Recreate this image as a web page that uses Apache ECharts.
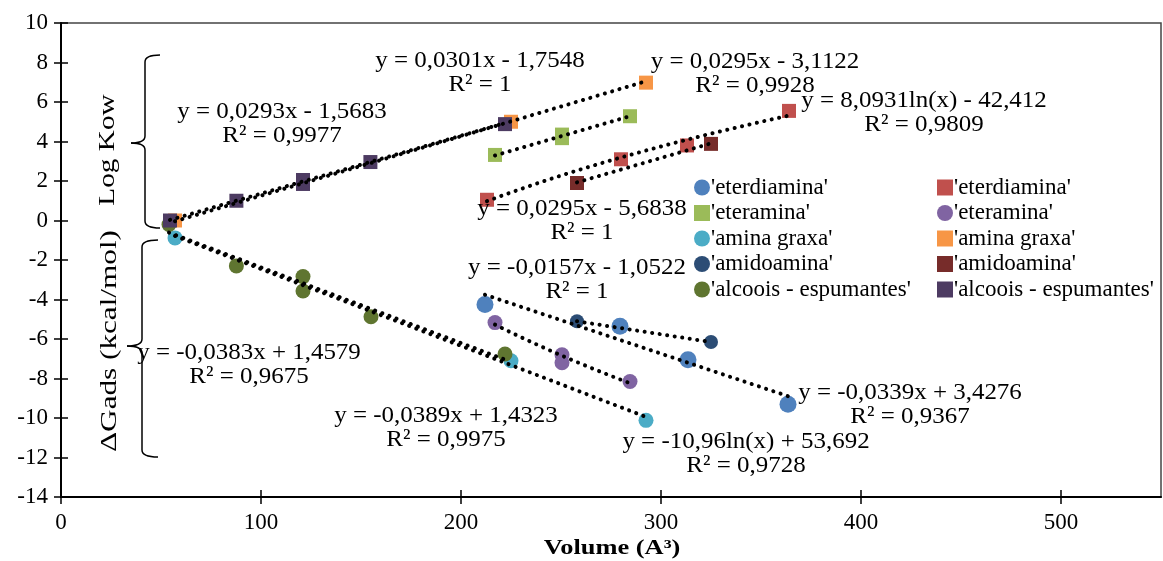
<!DOCTYPE html>
<html>
<head>
<meta charset="utf-8">
<script src="https://cdn.jsdelivr.net/npm/echarts@6.0.0/dist/echarts.min.js"></script>
<style>
  html, body { margin: 0; padding: 0; background: #fff; }
  #chart { width: 1163px; height: 561px; }
</style>
</head>
<body>
<div id="chart"></div>
<script>
// tick labels
var xTicks = [0, 100, 200, 300, 400, 500];

// ΔGads (circles) and Log Kow (squares) against volume
var volDgEterdiamina = [212, 279.5, 313.5, 363.5];
var dgEterdiamina = [-4.25, -5.35, -7.05, -9.3];
var volKowEterdiamina = [213, 280, 313, 364];
var kowEterdiamina = [1.05, 3.1, 3.8, 5.55];

var volKowEteramina = [217, 250.5, 250.5, 284.5];
var kowEteramina = [3.32, 4.17, 4.35, 5.28];
var volDgEteramina = [217, 250.5, 250.5, 284.5];
var dgEteramina = [-5.17, -6.8, -7.2, -8.15];

var volDgAmina = [57, 225, 292.5];
var dgAmina = [-0.88, -7.1, -10.12];
var volKowAmina = [57, 225, 292.5];
var kowAmina = [0.0, 5.0, 6.98];

var volDgAmido = [258, 325];
var dgAmido = [-5.1, -6.15];
var volKowAmido = [258, 325];
var kowAmido = [1.9, 3.88];

var volDgAlcoois = [54, 87.7, 121, 121, 155, 222];
var dgAlcoois = [-0.2, -2.3, -2.84, -3.57, -4.87, -6.76];
var volKowAlcoois = [54.5, 87.7, 121, 121, 154.7, 222];
var kowAlcoois = [0.0, 1.0, 1.85, 2.05, 2.96, 4.88];

// trendline coefficients [kind, a, b]  (lin: a*x+b, ln: a*ln(x)+b)
var fitDgEterdiamina = ['lin', -0.0339, 3.4276];
var fitKowEterdiamina = ['ln', 8.0931, -42.412];
var fitKowEteramina = ['lin', 0.0295, -3.1122];
var fitDgEteramina = ['ln', -10.96, 53.692];
var fitDgAmina = ['lin', -0.0389, 1.4323];
var fitKowAmina = ['lin', 0.0301, -1.7548];
var fitDgAmido = ['lin', -0.0157, -1.0522];
var fitKowAmido = ['lin', 0.0295, -5.6838];
var fitDgAlcoois = ['lin', -0.0383, 1.4579];
var fitKowAlcoois = ['lin', 0.0293, -1.5683];

var FONT = '"Liberation Serif", "Times New Roman", serif';

var groups = [
    { key: 'dg_eterdiamina', label: "'eterdiamina'", vol: volDgEterdiamina, val: dgEterdiamina, fit: fitDgEterdiamina, color: '#4F81BD', symbol: 'circle', size: 17 },
    { key: 'kow_eterdiamina', label: "'eterdiamina'", vol: volKowEterdiamina, val: kowEterdiamina, fit: fitKowEterdiamina, color: '#C0504D', symbol: 'rect', size: 14 },
    { key: 'kow_eteramina', label: "'eteramina'", vol: volKowEteramina, val: kowEteramina, fit: fitKowEteramina, color: '#9BBB59', symbol: 'rect', size: 14 },
    { key: 'dg_eteramina', label: "'eteramina'", vol: volDgEteramina, val: dgEteramina, fit: fitDgEteramina, color: '#8064A2', symbol: 'circle', size: 15 },
    { key: 'dg_amina', label: "'amina graxa'", vol: volDgAmina, val: dgAmina, fit: fitDgAmina, color: '#4BACC6', symbol: 'circle', size: 15 },
    { key: 'kow_amina', label: "'amina graxa'", vol: volKowAmina, val: kowAmina, fit: fitKowAmina, color: '#F79646', symbol: 'rect', size: 14 },
    { key: 'dg_amido', label: "'amidoamina'", vol: volDgAmido, val: dgAmido, fit: fitDgAmido, color: '#2C4D75', symbol: 'circle', size: 14 },
    { key: 'kow_amido', label: "'amidoamina'", vol: volKowAmido, val: kowAmido, fit: fitKowAmido, color: '#772C2A', symbol: 'rect', size: 14 },
    { key: 'dg_alcoois', label: "'alcoois - espumantes'", vol: volDgAlcoois, val: dgAlcoois, fit: fitDgAlcoois, color: '#5F7530', symbol: 'circle', size: 15 },
    { key: 'kow_alcoois', label: "'alcoois - espumantes'", vol: volKowAlcoois, val: kowAlcoois, fit: fitKowAlcoois, color: '#4D3B62', symbol: 'rect', size: 14 }
];

var labelOf = {};
groups.forEach(function (g) { labelOf[g.key] = g.label; });

function trendPoints(fit, vol) {
    var x0 = Math.min.apply(null, vol), x1 = Math.max.apply(null, vol);
    var n = fit[0] === 'ln' ? 30 : 1;
    var pts = [];
    for (var i = 0; i <= n; i++) {
        var x = x0 + (x1 - x0) * i / n;
        var y = fit[0] === 'ln' ? fit[1] * Math.log(x) + fit[2] : fit[1] * x + fit[2];
        pts.push([x, y]);
    }
    return pts;
}

var series = [];
groups.forEach(function (g) {
    series.push({
        name: g.key,
        type: 'scatter',
        symbol: g.symbol,
        symbolSize: g.size,
        itemStyle: { color: g.color, opacity: 1 },
        data: g.vol.map(function (v, i) { return [v, g.val[i]]; }),
        z: 2
    });
});
groups.forEach(function (g) {
    series.push({
        name: 'trend_' + g.key,
        type: 'line',
        showSymbol: false,
        silent: true,
        lineStyle: { color: '#000', width: 4, type: [0.1, 7.5], cap: 'round' },
        data: trendPoints(g.fit, g.vol),
        z: 3
    });
});

// equation labels (center x, center y in px)
var equations = [
    ['y = 0,0301x - 1,7548\nR² = 1', 480, 73],
    ['y = 0,0295x - 3,1122\nR² = 0,9928', 755, 74],
    ['y = 8,0931ln(x) - 42,412\nR² = 0,9809', 924, 113],
    ['y = 0,0293x - 1,5683\nR² = 0,9977', 282, 124],
    ['y = 0,0295x - 5,6838\nR² = 1', 582, 221],
    ['y = -0,0157x - 1,0522\nR² = 1', 577, 280],
    ['y = -0,0383x + 1,4579\nR² = 0,9675', 249, 365],
    ['y = -0,0339x + 3,4276\nR² = 0,9367', 910, 405],
    ['y = -0,0389x + 1,4323\nR² = 0,9975', 446, 428],
    ['y = -10,96ln(x) + 53,692\nR² = 0,9728', 746, 454]
];

var graphics = equations.map(function (e) {
    return {
        type: 'text', x: e[1], y: e[2], scaleX: 1.04, z: 10,
        style: { text: e[0], fontSize: 24, fontFamily: FONT, fill: '#000', align: 'center', verticalAlign: 'middle', lineHeight: 24 }
    };
});

// curly brace made of lines and quadratic curves
function brace(xv, xEnd, xTip, yTop, yMid, yBot) {
    var st = { stroke: '#000', lineWidth: 1.5, fill: null };
    var r = 7;
    return [
        { type: 'bezierCurve', shape: { x1: xEnd, y1: yTop, cpx1: xv, cpy1: yTop, x2: xv, y2: yTop + r }, style: st },
        { type: 'line', shape: { x1: xv, y1: yTop + r, x2: xv, y2: yMid - r }, style: st },
        { type: 'bezierCurve', shape: { x1: xv, y1: yMid - r, cpx1: xv, cpy1: yMid, x2: xTip, y2: yMid }, style: st },
        { type: 'bezierCurve', shape: { x1: xTip, y1: yMid, cpx1: xv, cpy1: yMid, x2: xv, y2: yMid + r }, style: st },
        { type: 'line', shape: { x1: xv, y1: yMid + r, x2: xv, y2: yBot - r }, style: st },
        { type: 'bezierCurve', shape: { x1: xv, y1: yBot - r, cpx1: xv, cpy1: yBot, x2: xEnd, y2: yBot }, style: st }
    ];
}

graphics = graphics.concat(brace(145, 160, 131, 55, 143, 228), brace(142, 158, 127, 240, 346, 457));
graphics.push(
    { type: 'text', x: 108, y: 150, rotation: Math.PI / 2, scaleX: 1.22,
      style: { text: 'Log Kow', fontSize: 24, fontFamily: FONT, fill: '#000', align: 'center', verticalAlign: 'middle' } },
    { type: 'text', x: 110, y: 341, rotation: Math.PI / 2, scaleX: 1.3,
      style: { text: 'ΔGads (kcal/mol)', fontSize: 24, fontFamily: FONT, fill: '#000', align: 'center', verticalAlign: 'middle' } },
    { type: 'text', x: 612, y: 548, scaleX: 1.2,
      style: { text: 'Volume (A³)', fontSize: 22, fontWeight: 'bold', fontFamily: FONT, fill: '#000', align: 'center', verticalAlign: 'middle' } }
);

var legendBase = {
    orient: 'vertical',
    itemWidth: 16,
    itemHeight: 16,
    itemGap: 2.5,
    padding: 0,
    top: 176,
    formatter: function (name) { return labelOf[name]; },
    textStyle: { fontSize: 23, fontFamily: FONT, color: '#000', padding: [0, 0, 0, -4] },
    selectedMode: false
};

var option = {
    backgroundColor: '#fff',
    animation: false,
    grid: { left: 61, right: 2, top: 23, bottom: 64, show: true, borderColor: '#444', borderWidth: 1.5 },
    legend: [
        Object.assign({}, legendBase, { left: 694, data: ['dg_eterdiamina', 'kow_eteramina', 'dg_amina', 'dg_amido', 'dg_alcoois'] }),
        Object.assign({}, legendBase, { left: 937, data: ['kow_eterdiamina', 'dg_eteramina', 'kow_amina', 'kow_amido', 'kow_alcoois'] })
    ],
    xAxis: [
        {
            type: 'value', min: 0, max: 550, interval: 100,
            axisLine: { onZero: false, lineStyle: { color: '#000', width: 2 } },
            axisTick: { length: 7, customValues: xTicks, lineStyle: { color: '#000', width: 1.5 } },
            axisLabel: { customValues: xTicks, fontSize: 23, fontFamily: FONT, color: '#000', margin: 14 },
            splitLine: { show: false }
        },
        {
            type: 'value', min: 0, max: 550, interval: 100, position: 'bottom',
            axisLine: { show: false, onZero: false },
            axisTick: { inside: true, length: 7, customValues: xTicks, lineStyle: { color: '#000', width: 1.5 } },
            axisLabel: { show: false },
            splitLine: { show: false }
        }
    ],
    yAxis: [
        {
            type: 'value', min: -14, max: 10, interval: 2,
            axisLine: { show: true, onZero: false, lineStyle: { color: '#000', width: 2 } },
            axisTick: { show: true, length: 7, lineStyle: { color: '#000', width: 1.5 } },
            axisLabel: { fontSize: 23, fontFamily: FONT, color: '#000', margin: 13 },
            splitLine: { show: false }
        },
        {
            type: 'value', min: -14, max: 10, interval: 2, position: 'left',
            axisLine: { show: false, onZero: false },
            axisTick: { show: true, inside: true, length: 7, lineStyle: { color: '#000', width: 1.5 } },
            axisLabel: { show: false },
            splitLine: { show: false }
        }
    ],
    graphic: graphics,
    series: series
};

var myChart = echarts.init(document.getElementById('chart'));
myChart.setOption(option);
</script>
</body>
</html>
